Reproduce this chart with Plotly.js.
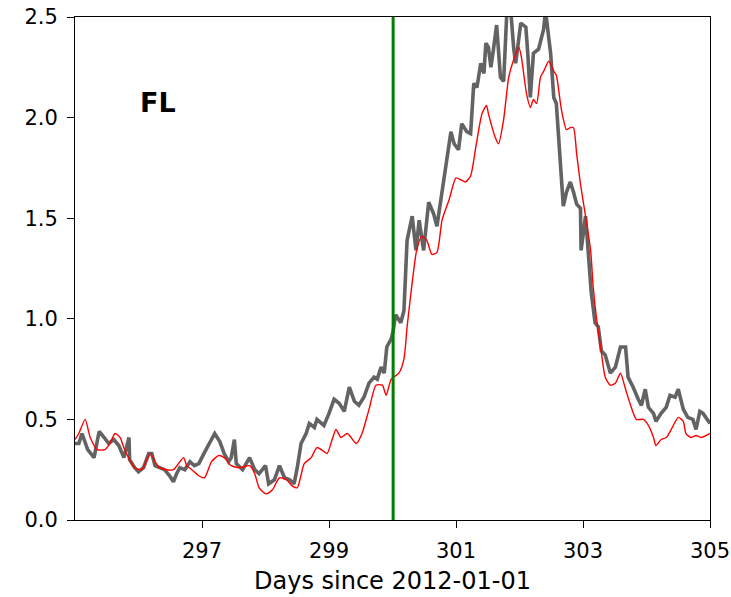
<!DOCTYPE html>
<html>
<head>
<meta charset="utf-8">
<script src="https://cdn.plot.ly/plotly-3.0.1.min.js"></script>
<style>html,body{margin:0;padding:0;background:#fff;}#chart{width:731px;height:597px;}</style>
</head>
<body>
<div id="chart"></div>
<script>
// Observed (gray) series
const obsDays = [295.00,295.06,295.11,295.20,295.30,295.38,295.46,295.53,295.61,295.69,295.77,295.85,295.86,295.94,296.00,296.08,296.16,296.21,296.26,296.33,296.41,296.49,296.55,296.60,296.65,296.73,296.81,296.88,296.95,297.03,297.10,297.20,297.28,297.35,297.42,297.46,297.51,297.54,297.64,297.75,297.83,297.90,298.00,298.05,298.14,298.22,298.30,298.38,298.45,298.50,298.56,298.64,298.69,298.77,298.81,298.92,299.00,299.08,299.16,299.24,299.32,299.40,299.47,299.55,299.63,299.71,299.76,299.82,299.87,299.91,299.98,300.01,300.05,300.13,300.18,300.23,300.31,300.37,300.42,300.49,300.57,300.65,300.70,300.76,300.84,300.92,300.97,301.04,301.09,301.17,301.23,301.28,301.33,301.39,301.44,301.47,301.51,301.55,301.59,301.64,301.70,301.75,301.80,301.86,301.91,301.94,302.02,302.10,302.13,302.17,302.22,302.30,302.38,302.41,302.49,302.54,302.58,302.66,302.69,302.74,302.80,302.85,302.90,302.96,302.97,303.04,303.08,303.13,303.19,303.24,303.29,303.35,303.43,303.51,303.59,303.67,303.71,303.79,303.87,303.92,303.98,304.03,304.11,304.15,304.23,304.31,304.37,304.45,304.50,304.58,304.65,304.73,304.78,304.84,304.89,304.94,305.00];
const obsValues = [0.38,0.38,0.43,0.35,0.31,0.44,0.41,0.38,0.40,0.37,0.31,0.41,0.30,0.26,0.24,0.26,0.33,0.33,0.27,0.26,0.25,0.22,0.19,0.23,0.26,0.25,0.29,0.27,0.28,0.33,0.37,0.43,0.39,0.33,0.29,0.31,0.40,0.28,0.25,0.31,0.25,0.23,0.27,0.18,0.20,0.27,0.21,0.20,0.18,0.26,0.38,0.43,0.48,0.46,0.50,0.47,0.53,0.60,0.58,0.54,0.66,0.59,0.57,0.61,0.68,0.71,0.70,0.76,0.73,0.86,0.90,0.94,1.02,0.98,1.04,1.39,1.51,1.34,1.49,1.34,1.58,1.52,1.46,1.59,1.75,1.93,1.87,1.84,1.97,1.93,1.92,2.17,2.15,2.27,2.22,2.37,2.35,2.25,2.34,2.46,2.20,2.18,2.52,2.54,2.34,2.27,2.47,2.45,2.32,2.10,2.32,2.34,2.44,2.53,2.32,2.10,2.07,1.74,1.56,1.63,1.68,1.63,1.57,1.55,1.34,1.51,1.34,1.13,0.98,0.96,0.84,0.82,0.73,0.76,0.86,0.86,0.71,0.66,0.60,0.57,0.65,0.56,0.53,0.49,0.53,0.56,0.62,0.61,0.65,0.55,0.51,0.50,0.45,0.54,0.53,0.51,0.48];

// Model (red) series
const modelDays = [295.00,295.06,295.16,295.24,295.35,295.47,295.55,295.63,295.71,295.78,295.86,295.94,296.05,296.13,296.19,296.26,296.33,296.44,296.55,296.63,296.71,296.76,296.84,296.95,297.04,297.15,297.26,297.35,297.46,297.59,297.75,297.83,297.90,298.01,298.11,298.22,298.33,298.42,298.50,298.61,298.72,298.81,298.92,298.97,299.05,299.11,299.19,299.29,299.43,299.52,299.63,299.74,299.84,299.90,299.98,300.10,300.18,300.23,300.31,300.38,300.46,300.54,300.62,300.70,300.78,300.89,301.00,301.08,301.15,301.23,301.31,301.41,301.48,301.51,301.62,301.67,301.75,301.83,301.91,301.99,302.03,302.11,302.17,302.22,302.27,302.33,302.38,302.46,302.54,302.58,302.66,302.74,302.80,302.85,302.90,302.96,303.04,303.12,303.16,303.21,303.29,303.35,303.43,303.51,303.59,303.67,303.76,303.84,303.95,304.03,304.11,304.15,304.23,304.31,304.39,304.50,304.58,304.62,304.70,304.78,304.86,305.00];
const modelValues = [0.40,0.43,0.50,0.41,0.35,0.35,0.38,0.43,0.41,0.35,0.30,0.26,0.25,0.30,0.33,0.29,0.26,0.25,0.25,0.28,0.31,0.27,0.25,0.22,0.21,0.29,0.32,0.31,0.27,0.26,0.27,0.23,0.16,0.13,0.15,0.21,0.20,0.17,0.16,0.28,0.31,0.36,0.34,0.33,0.40,0.45,0.41,0.43,0.38,0.43,0.55,0.67,0.67,0.62,0.70,0.73,0.80,0.96,1.18,1.34,1.41,1.39,1.32,1.33,1.49,1.59,1.70,1.69,1.68,1.71,1.85,2.02,2.06,2.02,1.90,1.87,1.99,2.20,2.29,2.35,2.30,2.12,2.05,2.09,2.07,2.20,2.23,2.28,2.23,2.21,2.04,1.94,1.95,1.95,1.82,1.67,1.51,1.34,1.16,1.01,0.83,0.71,0.67,0.68,0.73,0.65,0.56,0.50,0.50,0.47,0.41,0.37,0.40,0.41,0.45,0.51,0.49,0.43,0.41,0.42,0.41,0.43];

const eventDay = [300.01];
const xTickVals = [297, 299, 301, 303, 305];
const yTickVals = [0, 0.5, 1.0, 1.5, 2.0, 2.5];
const panelLabel = "FL";
const xTitle = "Days since 2012-01-01";

const traces = [
  {x: obsDays, y: obsValues, type: 'scatter', mode: 'lines',
   line: {color: '#636363', width: 3.6}, hoverinfo: 'skip'},
  {x: modelDays, y: modelValues, type: 'scatter', mode: 'lines',
   line: {color: '#ff0000', width: 1.4, shape: 'spline', smoothing: 0.6}, hoverinfo: 'skip'},
  {x: [eventDay[0], eventDay[0]], y: [0, 2.5], type: 'scatter', mode: 'lines',
   line: {color: '#008000', width: 3}, hoverinfo: 'skip'}
];

const axisCommon = {
  showgrid: false, zeroline: false, showline: true, mirror: true,
  linecolor: '#000', linewidth: 1, ticks: 'outside', ticklen: 7, tickwidth: 1,
  tickcolor: '#000', tickfont: {family: 'DejaVu Sans', size: 21, color: '#000'},
  ticklabeloverflow: 'allow'
};

const layout = {
  width: 731, height: 597,
  margin: {l: 75, r: 21, t: 17, b: 77},
  paper_bgcolor: '#fff', plot_bgcolor: '#fff',
  showlegend: false,
  font: {family: 'DejaVu Sans', color: '#000'},
  xaxis: Object.assign({}, axisCommon, {
    range: [295, 305], tickmode: 'array', tickvals: xTickVals,
    ticktext: xTickVals.map(String), ticklabelstandoff: 5,
    title: {text: xTitle, font: {family: 'DejaVu Sans', size: 24, color: '#000'}, standoff: 9}
  }),
  yaxis: Object.assign({}, axisCommon, {
    range: [0, 2.5], tickmode: 'array', tickvals: yTickVals,
    ticktext: yTickVals.map(v => v.toFixed(1)), ticklabelstandoff: 5
  }),
  annotations: [{
    text: '<b>' + panelLabel + '</b>', xref: 'paper', yref: 'paper',
    x: 0.13, y: 0.83, showarrow: false, xanchor: 'center', yanchor: 'middle',
    font: {family: 'DejaVu Sans', size: 27, color: '#000'}
  }]
};

Plotly.newPlot('chart', traces, layout, {displayModeBar: false, staticPlot: true});
</script>
</body>
</html>
